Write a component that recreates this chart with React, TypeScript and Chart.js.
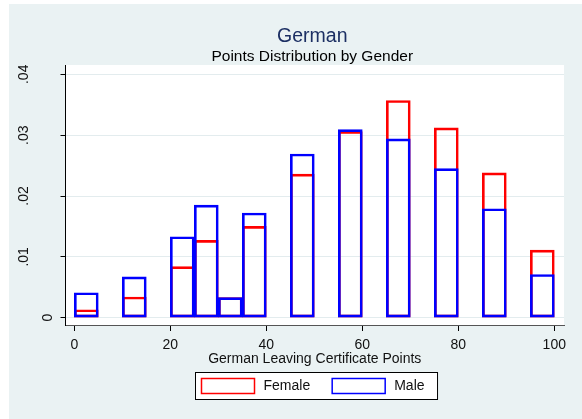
import React, { useEffect, useRef } from 'react';
import { Chart, registerables } from 'chart.js';

Chart.register(...registerables);

// ---- data ----
const binLeft = [0, 10, 20, 25, 30, 35, 45, 55, 65, 75, 85, 95];
const binWidth = 5;
const femaleDensity = [0.0013, 0.0034, 0.0084, 0.0127, 0.0033, 0.0150, 0.0236, 0.0306, 0.0357, 0.0312, 0.0238, 0.0111];
const maleDensity = [0.0041, 0.0067, 0.0133, 0.0185, 0.0033, 0.0172, 0.0269, 0.0309, 0.0294, 0.0245, 0.0179, 0.0071];
const seriesLabels = ['Female', 'Male'];
const xTicks = [0, 20, 40, 60, 80, 100];
const yTicks = [0, 0.01, 0.02, 0.03, 0.04];
const yTickLabels = ['0', '.01', '.02', '.03', '.04'];
const titleText = 'German';
const subtitleText = 'Points Distribution by Gender';
const xTitleText = 'German Leaving Certificate Points';

const FONT = '"Liberation Sans", Arial, Helvetica, sans-serif';
const GRAPH_BG = '#EAF2F3';

const bgPlugin = {
  id: 'stataBg',
  beforeDraw(chart: any) {
    const { ctx, width, height, chartArea } = chart;
    ctx.save();
    ctx.fillStyle = '#ffffff';
    ctx.fillRect(0, 0, width, height);
    ctx.fillStyle = GRAPH_BG;
    ctx.fillRect(9, 4, width - 9, height - 4);
    ctx.fillStyle = '#ffffff';
    ctx.fillRect(chartArea.left, chartArea.top, chartArea.right - chartArea.left, chartArea.bottom - chartArea.top);
    ctx.restore();
  },
};

const yLabelPlugin = {
  id: 'yLabels',
  afterDraw(chart: any) {
    const { ctx, chartArea } = chart;
    const ys = chart.scales.y;
    ctx.save();
    ctx.font = `14px ${FONT}`;
    ctx.fillStyle = '#111';
    ctx.textAlign = 'center';
    ctx.textBaseline = 'middle';
    yTicks.forEach((v, i) => {
      const label = yTickLabels[i];
      const w = ctx.measureText(label).width;
      const py = ys.getPixelForValue(v);
      const px = chartArea.left - 2 * w - 2;
      ctx.save();
      ctx.translate(px, py);
      ctx.rotate(-Math.PI / 2);
      ctx.fillText(label, 0, 0);
      ctx.restore();
    });
    ctx.restore();
  },
};

const legendPlugin = {
  id: 'stataLegend',
  afterDraw(chart: any) {
    const { ctx, chartArea } = chart;
    const ds = chart.data.datasets;
    ctx.save();
    ctx.font = `14px ${FONT}`;
    const padL = 6, sw = 53, sh = 15, gap = 9, itemGap = 22, padR = 13, boxH = 27;
    const widths = ds.map((d: any) => ctx.measureText(d.label).width);
    let total = padL + padR;
    widths.forEach((w: number, i: number) => {
      total += sw + gap + w + (i > 0 ? itemGap : 0);
    });
    const cx = (chartArea.left + chartArea.right) / 2 + 1;
    const left = Math.round(cx - total / 2) + 0.5;
    const top = Math.round(chart.scales.x.bottom + 6) + 0.5;
    ctx.fillStyle = '#ffffff';
    ctx.fillRect(left, top, total, boxH);
    ctx.strokeStyle = '#000';
    ctx.lineWidth = 1;
    ctx.strokeRect(left, top, total, boxH);
    let x = left + padL;
    const cy = top + boxH / 2;
    ds.forEach((d: any, i: number) => {
      if (i > 0) x += itemGap;
      ctx.fillStyle = '#ffffff';
      ctx.fillRect(x, cy - sh / 2, sw, sh);
      ctx.strokeStyle = d.borderColor;
      ctx.lineWidth = 1.5;
      ctx.strokeRect(x, cy - sh / 2, sw, sh);
      x += sw + gap;
      ctx.fillStyle = '#111';
      ctx.textAlign = 'left';
      ctx.textBaseline = 'middle';
      ctx.fillText(d.label, x, cy + 0.5);
      x += widths[i];
    });
    ctx.restore();
  },
};

export default function App() {
  const canvasRef = useRef<HTMLCanvasElement | null>(null);

  useEffect(() => {
    if (!canvasRef.current) return;
    Chart.defaults.font.family = FONT;
    const femaleData = binLeft.map((l, i) => ({ x: l + binWidth / 2, y: femaleDensity[i] }));
    const maleData = binLeft.map((l, i) => ({ x: l + binWidth / 2, y: maleDensity[i] }));

    const chart = new Chart(canvasRef.current, {
      type: 'bar',
      data: {
        datasets: [
          {
            label: seriesLabels[0],
            data: femaleData,
            borderColor: '#ff0000',
            backgroundColor: 'rgba(255,255,255,0)',
            borderWidth: 2,
            borderSkipped: false,
            order: 1,
          } as any,
          {
            label: seriesLabels[1],
            data: maleData,
            borderColor: '#0000ff',
            backgroundColor: 'rgba(255,255,255,0)',
            borderWidth: 2,
            borderSkipped: false,
            order: 0,
          } as any,
        ],
      },
      options: {
        responsive: false,
        animation: false,
        devicePixelRatio: 1,
        grouped: false,
        barPercentage: 1,
        categoryPercentage: 1,
        layout: { padding: { left: 60.5, right: 18, top: 0, bottom: 53 } },
        plugins: {
          legend: { display: false },
          tooltip: { enabled: false },
          title: {
            display: true,
            text: titleText,
            color: '#1c2f63',
            font: { size: 19.5, weight: 'normal', lineHeight: 1 },
            padding: { top: 27, bottom: 0 },
          },
          subtitle: {
            display: true,
            text: subtitleText,
            color: '#000',
            font: { size: 15.5, weight: 'normal', lineHeight: 1 },
            padding: { top: 2, bottom: 1 },
          },
        },
        scales: {
          x: {
            type: 'linear',
            min: -1.83,
            max: 102.02,
            offset: false,
            afterBuildTicks: (s: any) => {
              s.ticks = xTicks.map((v) => ({ value: v }));
            },
            afterFit: (s: any) => {
              s.paddingLeft = 0;
              s.paddingRight = 0;
            },
            grid: {
              display: true,
              drawOnChartArea: false,
              drawTicks: true,
              tickLength: 6,
              tickColor: '#000',
              offset: false,
            },
            border: { display: true, color: '#555', width: 1 },
            ticks: {
              color: '#111',
              font: { size: 14, lineHeight: 1 },
              padding: 7,
              maxRotation: 0,
              minRotation: 0,
              autoSkip: false,
            },
            title: {
              display: true,
              text: xTitleText,
              color: '#111',
              font: { size: 14, lineHeight: 1 },
              padding: { top: -7, bottom: 0 },
            },
          },
          y: {
            type: 'linear',
            min: -0.0012,
            max: 0.04153,
            afterBuildTicks: (s: any) => {
              s.ticks = yTicks.map((v) => ({ value: v }));
            },
            grid: {
              display: true,
              color: '#E3ECEE',
              lineWidth: 1,
              drawTicks: true,
              tickLength: 5,
              tickColor: '#000',
            },
            border: { display: true, color: '#000', width: 1 },
            ticks: { display: false },
          },
        },
      } as any,
      plugins: [bgPlugin, yLabelPlugin, legendPlugin],
    });
    return () => chart.destroy();
  }, []);

  return (
    <div style={{ position: 'fixed', left: 0, top: 0, width: 582, height: 419 }}>
      <canvas ref={canvasRef} width={582} height={419} />
    </div>
  );
}
